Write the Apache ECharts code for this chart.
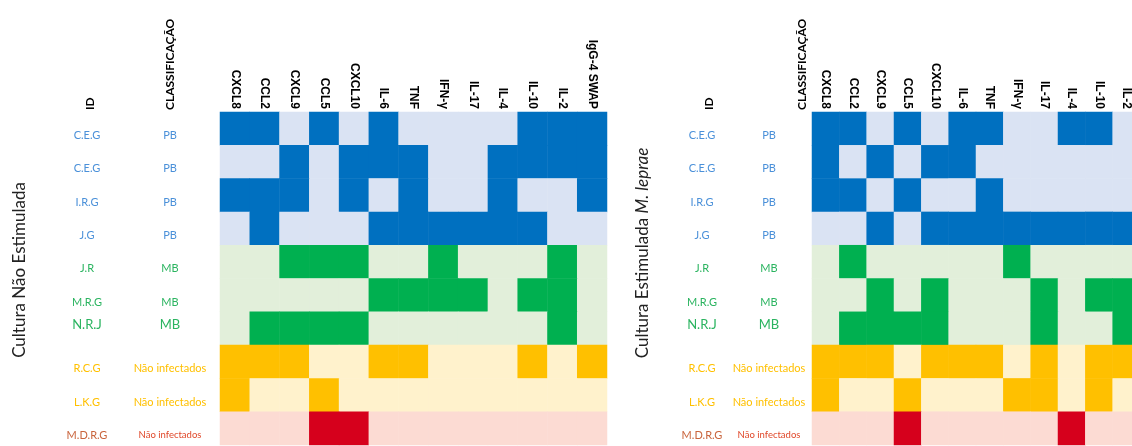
<!DOCTYPE html>
<html>
<head>
<meta charset="utf-8">
<script src="https://cdn.jsdelivr.net/npm/echarts@6/dist/echarts.min.js"></script>
<style>
  html, body { margin: 0; padding: 0; background: #fff; }
  #main { width: 1132px; height: 446px; }
</style>
</head>
<body>
<div id="main"></div>
<script>
// row labels
var ids = ['C.E.G', 'C.E.G', 'I.R.G', 'J.G', 'J.R', 'M.R.G', 'N.R.J', 'R.C.G', 'L.K.G', 'M.D.R.G'];
var classes = ['PB', 'PB', 'PB', 'PB', 'MB', 'MB', 'MB', 'Não infectados', 'Não infectados', 'Não infectados'];
// 0 = PB, 1 = MB, 2 = nao infectados, 3 = last row (red)
var rowGroup = [0, 0, 0, 0, 1, 1, 1, 2, 2, 3];

var colsLeft = ['CXCL8', 'CCL2', 'CXCL9', 'CCL5', 'CXCL10', 'IL-6', 'TNF', 'IFN-γ', 'IL-17', 'IL-4', 'IL-10', 'IL-2', 'IgG-4 SWAP'];
var colsRight = ['CXCL8', 'CCL2', 'CXCL9', 'CCL5', 'CXCL10', 'IL-6', 'TNF', 'IFN-γ', 'IL-17', 'IL-4', 'IL-10', 'IL-2'];

// 1 = high (dark), 0 = low (light)
var naoEstimulada = [
  [1, 1, 0, 1, 0, 1, 0, 0, 0, 0, 1, 1, 1],
  [0, 0, 1, 0, 1, 1, 1, 0, 0, 1, 1, 1, 1],
  [1, 1, 1, 0, 1, 0, 1, 0, 0, 1, 0, 0, 1],
  [0, 1, 0, 0, 0, 1, 1, 1, 1, 1, 1, 0, 0],
  [0, 0, 1, 1, 1, 0, 0, 1, 0, 0, 0, 1, 0],
  [0, 0, 0, 0, 0, 1, 1, 1, 1, 0, 1, 1, 0],
  [0, 1, 1, 1, 1, 0, 0, 0, 0, 0, 0, 1, 0],
  [1, 1, 1, 0, 0, 1, 1, 0, 0, 0, 1, 0, 1],
  [1, 0, 0, 1, 0, 0, 0, 0, 0, 0, 0, 0, 0],
  [0, 0, 0, 1, 1, 0, 0, 0, 0, 0, 0, 0, 0]
];
var estimulada = [
  [1, 1, 0, 1, 0, 1, 1, 0, 0, 1, 1, 0],
  [1, 0, 1, 0, 1, 1, 0, 0, 0, 0, 0, 0],
  [1, 1, 0, 1, 0, 0, 1, 0, 0, 0, 0, 0],
  [0, 0, 1, 0, 1, 1, 1, 1, 1, 1, 1, 1],
  [0, 1, 0, 0, 0, 0, 0, 1, 0, 0, 0, 0],
  [0, 0, 1, 0, 1, 0, 0, 0, 1, 0, 1, 1],
  [0, 1, 1, 1, 1, 0, 0, 0, 1, 0, 0, 1],
  [1, 1, 1, 0, 1, 1, 1, 0, 1, 0, 1, 1],
  [1, 0, 0, 1, 0, 0, 0, 1, 1, 0, 1, 0],
  [0, 0, 0, 1, 0, 0, 0, 0, 0, 1, 0, 0]
];

var cellColors = [
  ['#DAE3F3', '#0070C0'],
  ['#E2EFDA', '#00B050'],
  ['#FFF2CC', '#FFC000'],
  ['#FCDBD3', '#D6001C']
];
var labelKeys = ['b', 'g', 'y', 'r'];
var FONT = 'Lato, "Open Sans", sans-serif';

var rich = {
  b: { color: '#4A90D9', fontSize: 11, fontFamily: FONT, padding: [14, 0, 0, 0] },
  g: { color: '#2BB460', fontSize: 11, fontFamily: FONT, padding: [14, 0, 0, 0] },
  y: { color: '#FFC000', fontSize: 11, fontFamily: FONT, padding: [14, 0, 0, 0] },
  r: { color: '#C9643C', fontSize: 11, fontFamily: FONT, padding: [14, 0, 0, 0] },
  big: { color: '#2BB460', fontSize: 13, fontFamily: FONT, padding: [0, 0, 8, 0] },
  rs: { color: '#E0482A', fontSize: 9.5, fontFamily: FONT, padding: [14, 0, 0, 0] }
};

function idFmt(v, i) {
  return '{' + (i === 6 ? 'big' : labelKeys[rowGroup[i]]) + '|' + v + '}';
}
function classFmt(v, i) {
  var k = i === 6 ? 'big' : (i === 9 ? 'rs' : labelKeys[rowGroup[i]]);
  return '{' + k + '|' + v + '}';
}

function cells(matrix) {
  var out = [];
  for (var r = 0; r < matrix.length; r++) {
    for (var c = 0; c < matrix[r].length; c++) {
      out.push({
        value: [c, r, matrix[r][c]],
        itemStyle: { color: cellColors[rowGroup[r]][matrix[r][c]] }
      });
    }
  }
  return out;
}

function labelAxis(grid, data, offset, fmt) {
  return {
    type: 'category', gridIndex: grid, data: data, inverse: true, position: 'left', offset: offset,
    axisLine: { show: false }, axisTick: { show: false }, splitLine: { show: false },
    axisLabel: { margin: 0, align: 'center', interval: 0, formatter: fmt, rich: rich }
  };
}
function headerAxis(grid, name, offset) {
  return {
    type: 'category', gridIndex: grid, data: ids, position: 'left', offset: offset,
    axisLine: { show: false }, axisTick: { show: false }, axisLabel: { show: false },
    splitLine: { show: false },
    name: name, nameLocation: 'end', nameRotate: 90, nameGap: 2,
    nameTextStyle: { color: '#000', fontWeight: 'bold', fontSize: 12, fontFamily: FONT }
  };
}
function colAxis(grid, data) {
  return {
    type: 'category', gridIndex: grid, data: data, position: 'top',
    axisLine: { show: false }, axisTick: { show: false }, splitLine: { show: false },
    axisLabel: {
      rotate: 90, margin: 3, interval: 0, color: '#000',
      fontWeight: 'bold', fontSize: 12, fontFamily: '"Liberation Sans", Arial, sans-serif'
    }
  };
}

var chart = echarts.init(document.getElementById('main'));
var option = {
  animation: false,
  grid: [
    { left: 220, top: 112, width: 387, height: 333, outerBoundsMode: 'none' },
    { left: 812, top: 112, width: 328, height: 333, outerBoundsMode: 'none' }
  ],
  xAxis: [colAxis(0, colsLeft), colAxis(1, colsRight)],
  yAxis: [
    labelAxis(0, ids, 133, idFmt),
    labelAxis(0, classes, 50, classFmt),
    headerAxis(0, 'ID', 130),
    headerAxis(0, 'CLASSIFICAÇÃO', 50),
    labelAxis(1, ids, 110, idFmt),
    labelAxis(1, classes, 43, classFmt),
    headerAxis(1, 'ID', 103),
    headerAxis(1, 'CLASSIFICAÇÃO', 10)
  ],
  graphic: [
    {
      type: 'text', x: 20, y: 270, rotation: Math.PI / 2,
      style: { text: 'Cultura Não Estimulada', fill: '#222', font: '17px ' + FONT, align: 'center', verticalAlign: 'middle' }
    },
    {
      type: 'text', x: 643, y: 253, rotation: Math.PI / 2,
      style: {
        text: 'Cultura Estimulada {i|M. leprae}', fill: '#222', font: '17px ' + FONT,
        align: 'center', verticalAlign: 'middle',
        rich: { i: { fontStyle: 'italic', fontSize: 17, fontFamily: FONT, fill: '#222' } }
      }
    }
  ],
  series: [
    {
      type: 'heatmap', xAxisIndex: 0, yAxisIndex: 0, data: cells(naoEstimulada),
      emphasis: { disabled: true }
    },
    {
      type: 'heatmap', xAxisIndex: 1, yAxisIndex: 4, data: cells(estimulada),
      emphasis: { disabled: true }
    }
  ]
};
chart.setOption(option);
</script>
</body>
</html>
